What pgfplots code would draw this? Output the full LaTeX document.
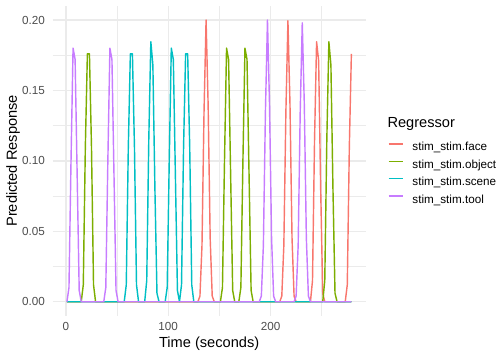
\documentclass[border=0pt]{standalone}
\usepackage{fontspec}
\setmainfont{Liberation Sans}
\usepackage{pgfplots}
\pgfplotsset{compat=1.18}
\definecolor{cface}{HTML}{F8766D}
\definecolor{cobject}{HTML}{7CAE00}
\definecolor{cscene}{HTML}{00BFC4}
\definecolor{ctool}{HTML}{C77CFF}
\definecolor{grid92}{HTML}{EBEBEB}
\definecolor{grey30}{HTML}{4D4D4D}
\begin{document}
\begin{tikzpicture}
\useasboundingbox (0,0) rectangle (504bp,360bp);
\begin{axis}[
  at={(52.7bp,44.2bp)}, anchor=south west,
  scale only axis, width=312.9bp, height=309.9bp,
  xmin=-12.9, xmax=292.9, ymin=-0.01, ymax=0.21,
  xtick={0,100,200}, xticklabels={0,100,200},
  ytick={0,0.05,0.1,0.15,0.2}, yticklabels={0.00,0.05,0.10,0.15,0.20},
  minor xtick={50,150,250}, minor ytick={0.025,0.075,0.125,0.175},
  xmajorgrids, ymajorgrids, xminorgrids, yminorgrids,
  major grid style={draw=grid92, line width=1.42bp},
  minor grid style={draw=grid92, line width=0.71bp},
  axis line style={draw=none},
  major tick length=0pt, minor tick length=0pt,
  tick style={draw=none},
  ticklabel style={font=\fontsize{11.73}{13}\selectfont, text=grey30},
  xticklabel style={anchor=center, inner sep=0pt},
  xticklabel shift=10.9bp,
  yticklabel style={anchor=east, inner sep=0pt},
  yticklabel shift=7.7bp,
  xlabel={Time (seconds)}, ylabel={Predicted Response},
  label style={font=\fontsize{14.67}{17}\selectfont},
  xlabel style={at={(axis description cs:0.5,-0.0887)}, anchor=center, inner sep=0pt},
  ylabel style={at={(axis description cs:-0.1269,0.5)}, anchor=center, inner sep=0pt},
  legend style={at={(axis description cs:1.0716,0.5595)}, anchor=north west,
    draw=none, fill=none, inner sep=0pt, outer sep=0pt,
    font=\fontsize{11.73}{13}\selectfont, row sep=6.5bp,
    nodes={inner sep=0pt, text height=8.5bp, text depth=2.4bp},
    /tikz/every odd column/.append style={column sep=8.3bp}},
  legend cell align=left,
  legend image code/.code={\draw[#1, line width=1.42bp] (0bp,4bp) -- (14.7bp,4bp);},
  every axis plot/.append style={line width=1.42bp, line join=round, mark=none},
]
\addplot[cface] coordinates {
(1,0) (129,0) (131,0.004) (133,0.04) (135,0.135) (137,0.2) (139,0.14) (141,0.045) (143,0.004) (145,0)
(209,0) (211,0.004) (213,0.04) (215,0.135) (217,0.1995) (219,0.14) (221,0.045) (223,0.004) (225,0)
(239,0) (241,0.015) (243,0.115) (245,0.1846) (247,0.171) (249,0.08) (251,0.006) (253,0)
(273,0) (275,0.012) (277,0.11) (279,0.176)
};
\addlegendentry{stim\_stim.face}
\addplot[cobject] coordinates {
(1,0) (15,0) (17,0.012) (19,0.11) (21,0.176) (23,0.176) (25,0.11) (27,0.012) (29,0)
(151,0) (153,0.01) (155,0.1) (157,0.18) (159,0.172) (161,0.09) (163,0.008) (165,0)
(169,0) (171,0.01) (173,0.1) (175,0.18) (177,0.172) (179,0.09) (181,0.008) (183,0)
(251,0) (253,0.015) (255,0.115) (257,0.1846) (259,0.168) (261,0.08) (263,0.006) (265,0) (279,0)
};
\addlegendentry{stim\_stim.object}
\addplot[cscene] coordinates {
(1,0) (57,0) (59,0.012) (61,0.11) (63,0.176) (65,0.176) (67,0.11) (69,0.012) (71,0)
(77,0) (79,0.015) (81,0.115) (83,0.1846) (85,0.168) (87,0.08) (89,0.006) (91,0)
(97,0) (99,0.01) (101,0.1) (103,0.18) (105,0.172) (107,0.09) (109,0.008) (111,0)
(113,0.012) (115,0.11) (117,0.176) (119,0.176) (121,0.11) (123,0.012) (125,0) (279,0)
};
\addlegendentry{stim\_stim.scene}
\addplot[ctool] coordinates {
(1,0) (3,0.01) (5,0.1) (7,0.18) (9,0.172) (11,0.09) (13,0.008) (15,0)
(37,0) (39,0.01) (41,0.1) (43,0.18) (45,0.172) (47,0.09) (49,0.008) (51,0)
(189,0) (191,0.004) (193,0.04) (195,0.135) (197,0.2) (199,0.14) (201,0.045) (203,0.004) (205,0)
(223,0) (225,0.004) (227,0.04) (229,0.135) (231,0.198) (233,0.14) (235,0.045) (237,0.004) (239,0) (279,0)
};
\addlegendentry{stim\_stim.tool}
\end{axis}
\node[anchor=west, font=\fontsize{14.67}{17}\selectfont, inner sep=0pt] at (387.3bp,236bp) {Regressor};
\end{tikzpicture}
\end{document}
